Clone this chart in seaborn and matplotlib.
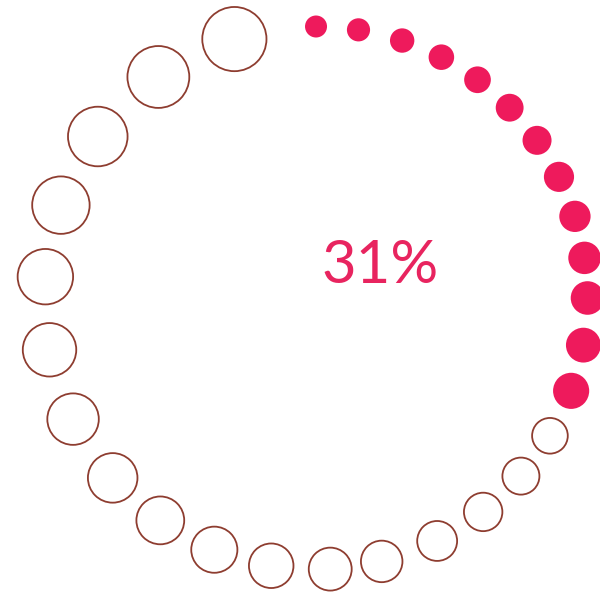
import numpy as np
import pandas as pd
import matplotlib.pyplot as plt
import seaborn as sns

# progress value shown in the middle
percent = 31

# angular position of each ring dot, degrees clockwise from 12 o'clock
dot_angles = [0, 9, 18.5, 27.5, 36.5, 45.5, 54.5, 63.5, 72.5, 81.5,
              90, 100, 110, 120.5, 131, 142, 153.5, 166, 177, 189.5,
              202, 215, 228.5, 243.5, 259, 274.5, 290, 306.5, 324.5, 342.5]

pink = "#EE1A5C"
brown = "#8E3D30"

df = pd.DataFrame({"angle": dot_angles})
df["theta"] = np.deg2rad(df["angle"])
df["r"] = 1.0
df["filled"] = df["angle"] <= percent * 3.6

# dots get bigger going round the ring (radius in px at 100 dpi)
rad_px = 11 + 22 * df["angle"] / max(dot_angles)
lw = 1.3
df["s_full"] = (rad_px * 2 * 0.72) ** 2
df["s_ring"] = (rad_px * 2 * 0.72 - lw) ** 2

sns.set_style("white")
fig = plt.figure(figsize=(6, 5.97), dpi=100)
ax = fig.add_axes([0.0742, 0.0461, 0.905, 0.9095], projection="polar")
ax.set_theta_zero_location("N")
ax.set_theta_direction(-1)

on = df[df["filled"]]
off = df[~df["filled"]]
sns.scatterplot(data=on, x="theta", y="r", s=on["s_full"].to_numpy(),
                color=pink, edgecolor="none", clip_on=False, legend=False, ax=ax)
sns.scatterplot(data=off, x="theta", y="r", s=off["s_ring"].to_numpy(),
                facecolors="none", edgecolor=brown, linewidth=lw,
                clip_on=False, legend=False, ax=ax)
ax.set_ylim(0, 1)
ax.axis("off")

fig.text(0.6333, 0.526, f"{percent}%", ha="center", va="baseline",
         fontsize=43, color="#E8245F", family="Lato", fontweight="normal")

plt.savefig("out.png", dpi=100)
